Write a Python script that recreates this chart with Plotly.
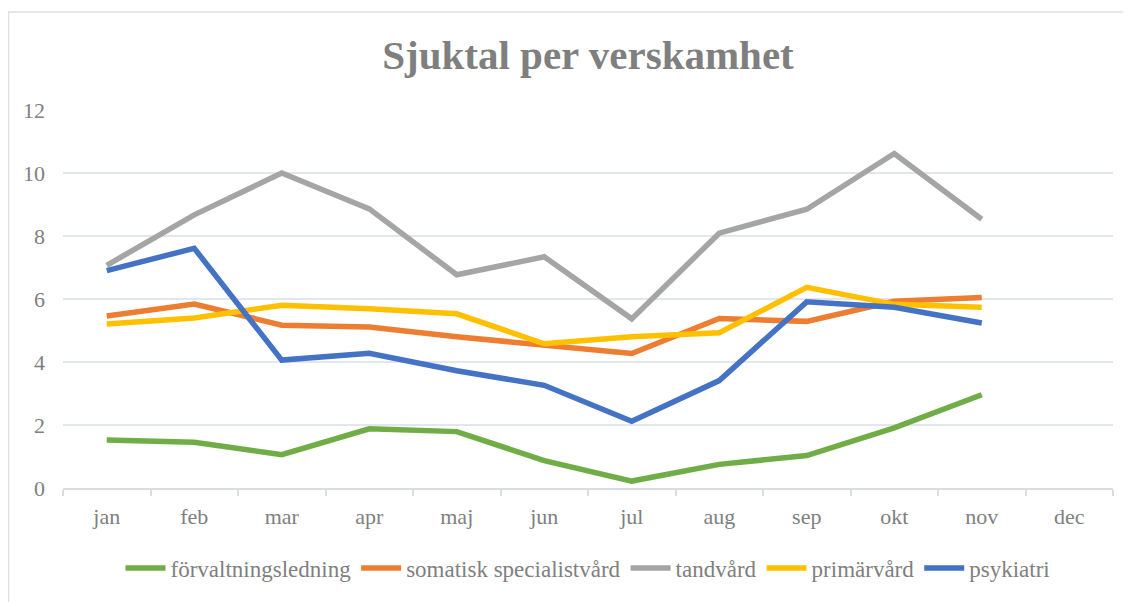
import plotly.graph_objects as go

months = ["jan", "feb", "mar", "apr", "maj", "jun", "jul", "aug", "sep", "okt", "nov", "dec"]
names = ["förvaltningsledning", "somatisk specialistvård", "tandvård", "primärvård", "psykiatri"]
forvaltning = [1.52, 1.45, 1.06, 1.88, 1.79, 0.87, 0.22, 0.75, 1.03, 1.91, 2.96, None]
somatisk = [5.46, 5.84, 5.17, 5.11, 4.80, 4.55, 4.27, 5.38, 5.29, 5.93, 6.05, None]
tandvard = [7.07, 8.67, 10.0, 8.86, 6.77, 7.34, 5.37, 8.09, 8.85, 10.62, 8.53, None]
primarvard = [5.21, 5.40, 5.80, 5.69, 5.53, 4.58, 4.80, 4.93, 6.37, 5.83, 5.74, None]
psykiatri = [6.90, 7.61, 4.06, 4.28, 3.72, 3.26, 2.12, 3.41, 5.91, 5.74, 5.24, None]
colors = ["#70ad47", "#ed7d31", "#a5a5a5", "#ffc000", "#4472c4"]
series = [forvaltning, somatisk, tandvard, primarvard, psykiatri]

font_fam = "Liberation Serif, DejaVu Serif, serif"
fig = go.Figure()
for n, s, c in zip(names, series, colors):
    fig.add_trace(go.Scatter(x=months, y=s, name=n, mode="lines",
                             line=dict(color=c, width=5.5), connectgaps=False))

fig.update_layout(
    width=1123, height=594,
    paper_bgcolor="white", plot_bgcolor="white",
    margin=dict(l=55, r=18, t=102, b=108),
    title=dict(text="<b>Sjuktal per verskamhet</b>", x=0.5, xanchor="center",
               xref="paper", y=0.921, yanchor="middle",
               font=dict(family=font_fam, size=41, color="#7f7f7f")),
    font=dict(family=font_fam, color="#808080", size=21),
    showlegend=True,
    legend=dict(orientation="h", x=0.5, xanchor="center", y=-0.212, yanchor="middle",
                font=dict(size=23, color="#808080"), itemwidth=40, tracegroupgap=0),
    xaxis=dict(type="category", categoryorder="array", categoryarray=months,
               range=[-0.5, 11.5], showgrid=False, showline=True, linecolor="#d9dce3",
               linewidth=1.5, ticks="outside", tickson="boundaries", ticklen=6,
               tickcolor="#d9dce3", tickwidth=1.5,
               tickfont=dict(size=22, color="#808080"), ticklabelstandoff=8),
    yaxis=dict(range=[0, 12], dtick=2, showgrid=True, gridcolor="#e3e6ec", gridwidth=1.5,
               zeroline=False, showline=False, ticks="",
               tickfont=dict(size=22, color="#808080"), ticklabelstandoff=17),
    shapes=[dict(type="rect", xref="paper", yref="paper", x0=-0.0519, x1=1.2,
                 y0=-0.6, y1=1.259, line=dict(color="#dde0e6", width=1.5), layer="below")],
)

fig.write_html("out.html")
